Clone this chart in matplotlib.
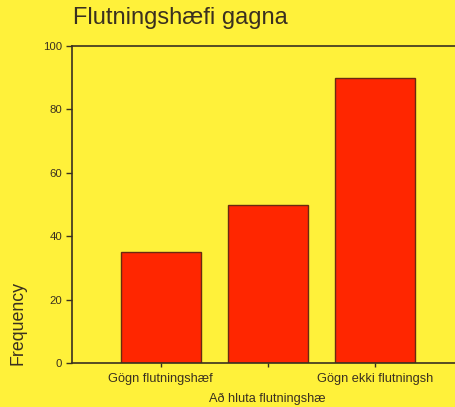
import numpy as np
import matplotlib
matplotlib.use("Agg")
import matplotlib.pyplot as plt

categories = ["Gögn flutningshæf", "Að hluta flutningshæ", "Gögn ekki flutningsh"]
frequency = [35, 50, 90]
y_ticks = [0, 20, 40, 60, 80, 100]

BG = "#fff13a"
BAR = "#ff2600"
INK = "#3a3020"

plt.rcParams["font.family"] = ["Liberation Sans", "DejaVu Sans"]

fig = plt.figure(figsize=(4.56, 4.07), dpi=100, facecolor=BG)
ax = fig.add_axes([72 / 456, 44 / 407, 1 - 72 / 456, 317 / 407], facecolor=BG)

x = np.arange(len(categories))
ax.bar(x, frequency, width=0.75, color=BAR, edgecolor="#6a2a10", linewidth=1.0, zorder=2)

ax.set_xlim(-0.83, 2.76)
ax.set_ylim(0, 100)
ax.set_yticks(y_ticks)
ax.set_xticks(x)
# stagger the middle label onto a second row
labels = [c if i != 1 else "\n" + c for i, c in enumerate(categories)]
ax.set_xticklabels(labels, fontsize=9.2, color=INK, linespacing=1.85)
ax.tick_params(axis="y", labelsize=8.2, colors=INK, length=4, width=1, pad=3)
ax.tick_params(axis="x", length=3, width=1, colors=INK, pad=4.5)

for side in ("left", "bottom", "top"):
    ax.spines[side].set_color(INK)
    ax.spines[side].set_linewidth(1.2)
ax.spines["right"].set_visible(False)

fig.text(73 / 456, 1 - 18 / 407, "Flutningshæfi gagna", fontsize=17, color=INK,
         ha="left", va="center")
fig.text(18 / 456, 1 - 323 / 407, "Frequency", fontsize=12.8, color=INK,
         rotation=90, ha="center", va="center")

fig.savefig("out.png", dpi=100, facecolor=BG)
